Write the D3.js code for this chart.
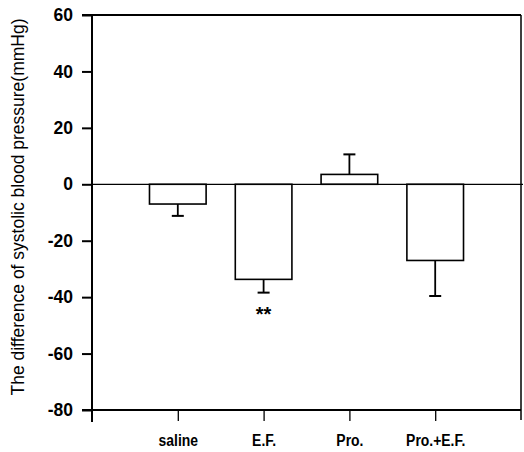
<!DOCTYPE html>
<html>
<head>
<meta charset="utf-8">
<script src="https://cdn.jsdelivr.net/npm/d3@7"></script>
<style>
  html, body { margin: 0; padding: 0; background: #fff; }
  svg { display: block; }
</style>
</head>
<body>
<svg id="chart" width="524" height="452"></svg>
<script>
const categories = ["saline", "E.F.", "Pro.", "Pro.+E.F."];
const means = [-7, -33.7, 3.5, -27];
const errors = [4.2, 4.7, 7.1, 12.6];
const marks = ["", "**", "", ""];
const yTicks = [-80, -60, -40, -20, 0, 20, 40, 60];
const yLabel = "The difference of systolic blood pressure(mmHg)";

(function () {
const svg = d3.select("#chart");
const mLeft = 92, mRight = 521, mTop = 15, mBottom = 410;

const y = d3.scaleLinear().domain([-80, 60]).range([mBottom, mTop]);
const x = d3.scalePoint().domain(["", ...categories, " "]).range([mLeft, mRight]);
const step = x.step();
const barW = step * 0.66;

const font = "'Liberation Sans', Arial, sans-serif";

// frame lines
const g = svg.append("g").attr("stroke", "#000").attr("fill", "none");
g.append("line").attr("x1", mLeft - 10).attr("x2", mRight).attr("y1", y(60)).attr("y2", y(60)).attr("stroke-width", 2);
g.append("line").attr("x1", mLeft - 10).attr("x2", mRight).attr("y1", y(-80)).attr("y2", y(-80)).attr("stroke-width", 2);
g.append("line").attr("x1", mRight).attr("x2", mRight).attr("y1", y(60)).attr("y2", y(-80) + 10).attr("stroke-width", 1.5);

// y axis
const yAxis = d3.axisLeft(y).tickValues(yTicks).tickSize(10).tickPadding(9).tickFormat(d => String(d));
const ya = svg.append("g").attr("transform", `translate(${mLeft},0)`).call(yAxis);
ya.select(".domain").remove();
ya.selectAll(".tick line").attr("stroke", "#000").attr("stroke-width", 2);
ya.selectAll(".tick text").attr("font-family", font).attr("font-size", 17.5).attr("font-weight", "bold").attr("fill", "#000");
svg.append("line").attr("x1", mLeft).attr("x2", mLeft).attr("y1", y(60)).attr("y2", y(-80) + 12).attr("stroke", "#000").attr("stroke-width", 2);

// x axis
const xAxis = d3.axisBottom(x).tickValues(categories).tickSize(11).tickPadding(0);
const xa = svg.append("g").attr("transform", `translate(0,${mBottom})`).call(xAxis);
xa.select(".domain").remove();
xa.selectAll(".tick line").attr("stroke", "#000").attr("stroke-width", 1.3);
xa.selectAll(".tick text")
  .attr("y", 36).attr("dy", null)
  .attr("transform", "scale(0.82,1)")
  .attr("font-family", font).attr("font-size", 17).attr("font-weight", "bold").attr("fill", "#000");

// bars
svg.append("g").selectAll("rect").data(categories).join("rect")
  .attr("x", (d) => x(d) - barW / 2)
  .attr("width", barW)
  .attr("y", (d, i) => y(Math.max(0, means[i])))
  .attr("height", (d, i) => Math.abs(y(means[i]) - y(0)))
  .attr("fill", "#fff").attr("stroke", "#000").attr("stroke-width", 1.6);

// zero line
svg.append("line").attr("x1", mLeft).attr("x2", mRight + 2).attr("y1", y(0)).attr("y2", y(0)).attr("stroke", "#000").attr("stroke-width", 1.3);

// error bars (one-sided)
const eg = svg.append("g").attr("stroke", "#000");
categories.forEach((c, i) => {
  const v = means[i], e = errors[i];
  const end = v >= 0 ? v + e : v - e;
  eg.append("line").attr("x1", x(c)).attr("x2", x(c)).attr("y1", y(v)).attr("y2", y(end)).attr("stroke-width", 1.8);
  eg.append("line").attr("x1", x(c) - 6).attr("x2", x(c) + 6).attr("y1", y(end)).attr("y2", y(end)).attr("stroke-width", 2);
});

// significance marks
svg.append("g").selectAll("text").data(categories).join("text")
  .attr("x", d => x(d))
  .attr("y", (d, i) => y(means[i] - errors[i]) + 28)
  .attr("text-anchor", "middle")
  .attr("font-family", font).attr("font-size", 20).attr("font-weight", "bold")
  .text((d, i) => marks[i]);

// y label
svg.append("text")
  .attr("transform", `translate(24,207) rotate(-90)`)
  .attr("text-anchor", "middle")
  .attr("font-family", font).attr("font-size", 17.5)
  .text(yLabel);
})();
</script>
</body>
</html>
